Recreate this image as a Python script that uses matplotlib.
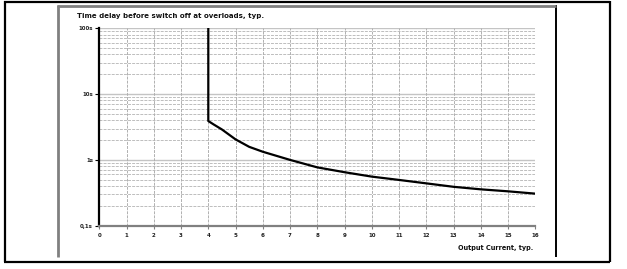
import matplotlib
matplotlib.use('Agg')
import matplotlib.pyplot as plt
from matplotlib.lines import Line2D
from matplotlib.ticker import FixedLocator, NullFormatter

# ---- data ----
current = [4, 4, 4.2, 4.5, 5, 5.5, 6, 7, 8, 9, 10, 11, 12, 13, 14, 15, 16]
delay = [100, 3.9, 3.45, 2.9, 2.05, 1.58, 1.33, 1.0, 0.77, 0.65, 0.557, 0.496,
         0.44, 0.39, 0.357, 0.333, 0.307]
x_ticks = list(range(0, 17))
y_ticks = [0.1, 1, 10, 100]
y_tick_labels = ["0,1s", "1s", "10s", "100s"]
title = "Time delay before switch off at overloads, typ."
xlabel = "Output Current, typ."

W, H = 627, 269
fig = plt.figure(figsize=(W / 100, H / 100), dpi=100)
fig.patch.set_facecolor('white')

def fx(px):
    return px / W

def fy(py):
    return 1 - py / H

# frame lines (table-like border)
frame = [
    ((4, 610), (1.5, 1.5), 'black', 1.6),
    ((4, 610), (261.5, 261.5), 'black', 1.6),
    ((4.5, 4.5), (1, 262), 'black', 1.6),
    ((610, 610), (1, 262), 'black', 1.6),
    ((555.5, 555.5), (5, 256.5), 'black', 1.4),
    ((57, 556), (5.8, 5.8), '#808080', 2.0),
    ((57.5, 57.5), (5, 256.5), '#808080', 2.0),
]
for xs, ys, c, lw in frame:
    fig.add_artist(Line2D([fx(v) for v in xs], [fy(v) for v in ys],
                          color=c, lw=lw, transform=fig.transFigure,
                          solid_capstyle='butt'))

left, right, top, bottom = 99.3, 535.3, 28.3, 225.7
ax = fig.add_axes([fx(left), fy(bottom), (right - left) / W, (bottom - top) / H])
ax.set_yscale('log')
ax.set_xlim(0, 16)
ax.set_ylim(0.1, 100)

# grid
minor_vals = [m * 10.0 ** e for e in (-1, 0, 1) for m in range(2, 10)]
for v in minor_vals:
    ax.axhline(v, color='#bdbdbd', lw=0.7, ls=(0, (3, 1.2)), zorder=1)
for v in [1, 10, 100]:
    ax.axhline(v, color='#c4c4c4', lw=1.0, ls='-', zorder=1)
for v in x_ticks[1:]:
    ax.axvline(v, color='#b0b0b0', lw=0.7, ls=(0, (3, 1.2)), zorder=1)

ax.plot(current, delay, color='black', lw=1.6, zorder=3, solid_joinstyle='round')

for s in ['top', 'right']:
    ax.spines[s].set_visible(False)
ax.spines['left'].set_color('black')
ax.spines['left'].set_linewidth(1.6)
ax.spines['bottom'].set_color('#808080')
ax.spines['bottom'].set_linewidth(1.6)
ax.spines['left'].set_zorder(4)
ax.spines['bottom'].set_zorder(4)

ax.yaxis.set_major_locator(FixedLocator(y_ticks))
ax.yaxis.set_minor_locator(FixedLocator([]))
ax.yaxis.set_minor_formatter(NullFormatter())
ax.set_yticks(y_ticks)
ax.set_yticklabels(y_tick_labels)
ax.set_xticks(x_ticks)
ax.set_xticklabels([str(v) for v in x_ticks])

ax.tick_params(axis='y', which='major', length=3, width=0.8, color='black',
               pad=1.5, labelsize=4.0, labelcolor='#222222')
ax.tick_params(axis='x', which='major', length=2.5, width=0.8, color='#808080',
               pad=2.5, labelsize=4.0, labelcolor='#222222')
for lab in ax.get_xticklabels() + ax.get_yticklabels():
    lab.set_fontweight('bold')
ax.set_facecolor('white')

fig.text(fx(77), fy(16), title, fontsize=5.0, fontweight='bold',
         ha='left', va='center', color='#111111')
fig.text(fx(533), fy(248), xlabel, fontsize=4.7, fontweight='bold',
         ha='right', va='center', color='#111111')

fig.savefig('out.png', dpi=100, facecolor='white')
